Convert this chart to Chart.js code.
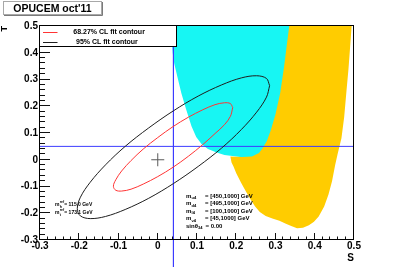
<!DOCTYPE html>
<html><head><meta charset="utf-8">
<script src="https://cdn.jsdelivr.net/npm/chart.js@4/dist/chart.umd.min.js"></script>
<style>html,body{margin:0;padding:0;background:#fff}#wrap{width:394px;height:267px;position:relative}</style>
</head><body><div id="wrap"><canvas id="c"></canvas></div>
<script>
// ---- data ----
const xTickValues = [-0.3,-0.2,-0.1,0,0.1,0.2,0.3,0.4,0.5];
const xTickLabels = ['-0.3','-0.2','-0.1','0','0.1','0.2','0.3','0.4','0.5'];
const yTickValues = [-0.3,-0.2,-0.1,0,0.1,0.2,0.3,0.4,0.5];
const yTickLabels = ['-0.3','-0.2','-0.1','0','0.1','0.2','0.3','0.4','0.5'];

const seriesLabels = ['68.27% CL fit contour', '95% CL fit contour'];

const redContourS = [0.191,0.185,0.170,0.146,0.115,0.078,0.039,0.000,-0.037,-0.068,-0.092,-0.107,-0.113,-0.107,-0.092,-0.068,-0.037,0.000,0.039,0.078,0.115,0.146,0.170,0.185,0.191];
const redContourT = [0.195,0.210,0.213,0.206,0.187,0.159,0.124,0.083,0.040,-0.003,-0.042,-0.075,-0.099,-0.114,-0.117,-0.110,-0.091,-0.063,-0.028,0.013,0.057,0.098,0.131,0.162,0.195];

const blackContourS = [0.285,0.277,0.252,0.213,0.163,0.103,0.040,-0.023,-0.083,-0.133,-0.172,-0.197,-0.205,-0.197,-0.172,-0.133,-0.083,-0.023,0.040,0.103,0.163,0.213,0.252,0.277,0.285];
const blackContourT = [0.277,0.304,0.314,0.306,0.280,0.238,0.183,0.119,0.050,-0.019,-0.084,-0.140,-0.183,-0.210,-0.220,-0.212,-0.186,-0.144,-0.089,-0.025,0.044,0.113,0.178,0.234,0.277];

const cyanRegionS = [0.035,0.036,0.038,0.042,0.050,0.060,0.072,0.086,0.098,0.112,0.128,0.150,0.170,0.200,0.230,0.250,0.262,0.275,0.300,0.330,0.360];
const cyanRegionT = [0.500,0.450,0.400,0.360,0.310,0.250,0.190,0.125,0.085,0.058,0.040,0.027,0.018,0.012,0.007,0.008,0.018,0.030,0.070,0.200,0.500];

const yellowRegionS = [0.335,0.328,0.322,0.312,0.300,0.288,0.278,0.268,0.258,0.240,0.215,0.185,0.188,0.193,0.200,0.212,0.225,0.235,0.248,0.260,0.275,0.292,0.310,0.325,0.340,0.355,0.370,0.385,0.398,0.410,0.424,0.435,0.444,0.452,0.458,0.468,0.475,0.481,0.486,0.490,0.494];
const yellowRegionT = [0.500,0.420,0.350,0.250,0.170,0.110,0.070,0.045,0.025,0.012,0.010,0.012,-0.010,-0.025,-0.050,-0.085,-0.120,-0.145,-0.175,-0.195,-0.210,-0.220,-0.228,-0.238,-0.248,-0.256,-0.254,-0.245,-0.232,-0.212,-0.175,-0.130,-0.080,-0.020,0.020,0.080,0.160,0.260,0.340,0.420,0.500];

const bestFitS = [0];
const bestFitT = [0];
const smReferenceS = 0.04;
const smReferenceT = 0.05;

const titleText = "OPUCEM oct'11";
const refMassSubs = ['h', 't'];
const refMassValues = ['= 115.0 GeV', '= 173.1 GeV'];
const scanSubs = ['u4', 'd4', 'l4', 'ν4'];
const scanRanges = ['= [450,1000] GeV', '= [495,1000] GeV', '= [100,1000] GeV', '= [45,1000] GeV'];
const mixingText = ['sinθ', '34', '= 0.00'];

// ---- chart ----
const FONT = "'Liberation Sans', Arial, Helvetica, sans-serif";
Chart.defaults.font.family = FONT;
const pts = (xs, ys) => xs.map((x, i) => ({x, y: ys[i]}));

function txt(ctx, s, x, y, size, weight) {
  ctx.font = (weight || 'bold') + ' ' + size + 'px ' + FONT;
  ctx.fillText(s, x, y);
  return x + ctx.measureText(s).width;
}

const decor = {
  id: 'decor',
  afterDatasetsDraw(chart) {
    const {ctx, chartArea: a, scales: {x, y}} = chart;
    const r = p => Math.round(p) - 0.5;
    ctx.save();
    ctx.strokeStyle = '#111';
    ctx.lineWidth = 1;
    ctx.beginPath();
    for (let i = 0; i <= 40; i++) {
      const v = -0.3 + i * 0.02;
      const major = i % 5 === 0;
      const px = r(x.getPixelForValue(v));
      ctx.moveTo(px, a.bottom); ctx.lineTo(px, a.bottom - (major ? 7 : 3.5));
      const py = r(y.getPixelForValue(v));
      ctx.moveTo(a.left, py); ctx.lineTo(a.left + (major ? 10 : 5), py);
    }
    ctx.stroke();
    ctx.strokeStyle = '#000';
    ctx.strokeRect(r(a.left), r(a.top), Math.round(a.right - a.left), Math.round(a.bottom - a.top));
    ctx.restore();
  },
  afterDraw(chart) {
    const {ctx} = chart;
    ctx.save();
    // title box
    ctx.fillStyle = '#fff';
    ctx.fillRect(3.5, 1.5, 98, 13);
    ctx.strokeStyle = '#a8a8a8';
    ctx.strokeRect(3.5, 1.5, 98, 13);
    ctx.strokeStyle = '#7a7a7a';
    ctx.beginPath(); ctx.moveTo(4, 15.5); ctx.lineTo(102.5, 15.5); ctx.lineTo(102.5, 2); ctx.stroke();
    ctx.fillStyle = '#000';
    ctx.textBaseline = 'alphabetic';
    ctx.textAlign = 'center';
    ctx.font = 'bold 10.5px ' + FONT;
    ctx.fillText(titleText, 52.5, 12.3);
    ctx.textAlign = 'left';
    // legend box
    ctx.fillStyle = '#fff';
    ctx.fillRect(39.5, 25.5, 137, 21);
    ctx.strokeStyle = '#000';
    ctx.strokeRect(39.5, 25.5, 137, 21);
    const ds = chart.data.datasets;
    const rows = [{y: 32.5, tx: 73.3, d: ds[0]}, {y: 42.5, tx: 76, d: ds[1]}];
    rows.forEach((rw, i) => {
      ctx.strokeStyle = rw.d.borderColor;
      ctx.beginPath(); ctx.moveTo(43, rw.y); ctx.lineTo(57.5, rw.y); ctx.stroke();
      ctx.fillStyle = '#000';
      ctx.textBaseline = 'middle';
      ctx.font = 'bold 7px ' + FONT;
      ctx.fillText(seriesLabels[i], rw.tx, rw.y);
    });
    // annotations
    ctx.textBaseline = 'alphabetic';
    ctx.fillStyle = '#000';
    [206, 214].forEach((b, i) => {
      const xe = txt(ctx, 'm', 55, b, 5);
      txt(ctx, 'ref', xe + 0.2, b - 3.3, 3.5);
      txt(ctx, refMassSubs[i], xe + 0.2, b + 2, 3.5);
      txt(ctx, refMassValues[i], 64.3, b, 5);
    });
    const base = [197.5, 205, 212.5, 220];
    base.forEach((b, i) => {
      const xe = txt(ctx, 'm', 186, b, 6);
      txt(ctx, scanSubs[i], xe + 0.2, b + 1.5, 4);
      txt(ctx, scanRanges[i], 205, b, 6);
    });
    const xe = txt(ctx, mixingText[0], 186, 227.5, 6);
    txt(ctx, mixingText[1], xe + 0.2, 229, 4);
    txt(ctx, mixingText[2], 205.5, 227.5, 6);
    ctx.restore();
  }
};

new Chart(document.getElementById('c'), {
  type: 'scatter',
  data: {
    datasets: [
      {label: seriesLabels[0], data: pts(redContourS, redContourT), showLine: true, borderColor: '#ff3434', borderWidth: 1, pointRadius: 0, tension: 0.35, fill: false, order: 0},
      {label: seriesLabels[1], data: pts(blackContourS, blackContourT), showLine: true, borderColor: '#1e1e1e', borderWidth: 1, pointRadius: 0, tension: 0.35, fill: false, order: 0},
      {label: 'best fit', data: pts(bestFitS, bestFitT), showLine: false, pointStyle: 'cross', pointRadius: 6.5, pointBorderColor: '#5a5a5a', pointBorderWidth: 1, order: 0},
      {label: 'T ref', data: [{x: -0.3, y: smReferenceT}, {x: 0.5, y: smReferenceT}], showLine: true, borderColor: '#3c3cff', borderWidth: 1, pointRadius: 0, order: 1},
      {label: 'S ref', data: [{x: smReferenceS, y: 0.5}, {x: smReferenceS, y: -0.41}], showLine: true, borderColor: '#3c3cff', borderWidth: 1, pointRadius: 0, order: 1, clip: false},
      {label: 'yellow', data: pts(yellowRegionS, yellowRegionT), showLine: true, borderWidth: 0, borderColor: 'rgba(0,0,0,0)', backgroundColor: '#ffcc00', pointRadius: 0, fill: 'shape', order: 2},
      {label: 'cyan', data: pts(cyanRegionS, cyanRegionT), showLine: true, borderWidth: 0, borderColor: 'rgba(0,0,0,0)', backgroundColor: '#17f6f3', pointRadius: 0, fill: 'shape', order: 3}
    ]
  },
  options: {
    responsive: true,
    maintainAspectRatio: false,
    animation: false,
    events: [],
    layout: {padding: {left: 0, right: 40, top: 26, bottom: 0}},
    plugins: {legend: {display: false}, tooltip: {enabled: false}},
    scales: {
      x: {
        type: 'linear', min: -0.3, max: 0.5,
        grid: {display: false, drawTicks: false},
        border: {display: false},
        ticks: {autoSkip: false, maxRotation: 0, padding: 0, color: '#000', font: {size: 10, weight: 'bold'}, callback: (v, i) => xTickLabels[i]},
        afterBuildTicks: s => { s.ticks = xTickValues.map(v => ({value: v})); },
        afterFit: s => { s.height = 27; },
        title: {display: true, text: 'S', align: 'end', color: '#000', font: {size: 10, weight: 'bold'}, padding: {top: 0, bottom: 3}}
      },
      y: {
        type: 'linear', min: -0.3, max: 0.5,
        grid: {display: false, drawTicks: false},
        border: {display: false},
        ticks: {autoSkip: false, padding: 2, color: '#000', font: {size: 10, weight: 'bold'}, callback: (v, i) => yTickLabels[i]},
        afterBuildTicks: s => { s.ticks = yTickValues.map(v => ({value: v})); },
        afterFit: s => { s.width = 40; },
        title: {display: true, text: 'T', align: 'end', color: '#000', font: {size: 9, weight: 'bold'}, padding: {top: -1, bottom: 0}}
      }
    }
  },
  plugins: [decor]
});
</script>
</body></html>
